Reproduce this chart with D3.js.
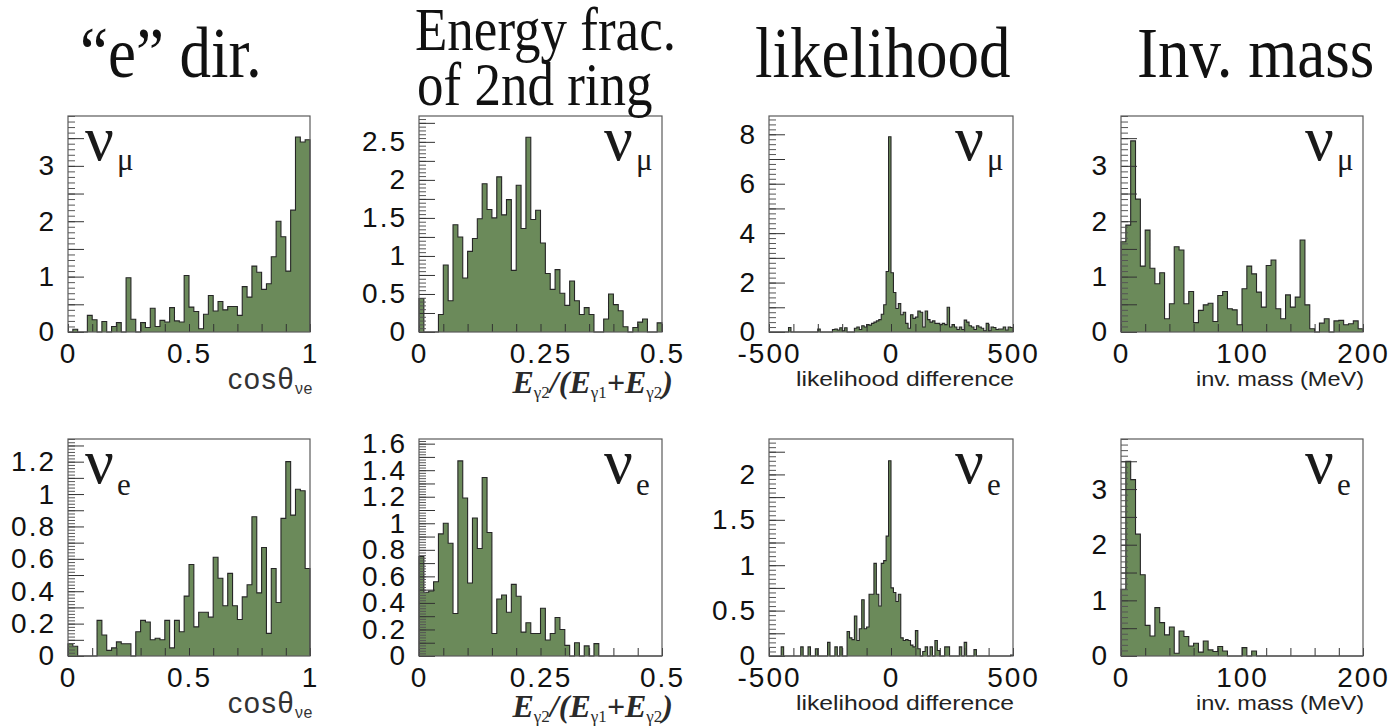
<!DOCTYPE html>
<html><head><meta charset="utf-8">
<script src="https://cdn.jsdelivr.net/npm/d3@7"></script>
<style>body{margin:0;background:#fff}</style>
</head><body><svg id="c" width="1394" height="726" xmlns="http://www.w3.org/2000/svg"></svg>
<script>
// ---------- data ----------
const titles = ["\u201ce\u201d dir.", "Energy frac.", "of 2nd ring", "likelihood", "Inv. mass"];

const cosRange = [0, 1];
const efracRange = [0, 0.5];
const likeRange = [-500, 500];
const massRange = [0, 200];

const cosTicks = [0, 0.5, 1];
const efracTicks = [0, 0.25, 0.5];
const likeTicks = [-500, 0, 500];
const massTicks = [0, 100, 200];

const yTicksCosMu = [0, 1, 2, 3];
const yTicksEfracMu = [0, 0.5, 1, 1.5, 2, 2.5];
const yTicksLikeMu = [0, 2, 4, 6, 8];
const yTicksMassMu = [0, 1, 2, 3];
const yTicksCosE = [0, 0.2, 0.4, 0.6, 0.8, 1, 1.2];
const yTicksEfracE = [0, 0.2, 0.4, 0.6, 0.8, 1, 1.2, 1.4, 1.6];
const yTicksLikeE = [0, 0.5, 1, 1.5, 2];
const yTicksMassE = [0, 1, 2, 3];

const yMaxTop = [3.9, 2.84, 8.74, 3.9];
const yMaxBottom = [1.34, 1.635, 2.39, 3.9];

const cosNuMu = [0,0.05,0,0,0.3,0.22,0,0.19,0,0.1, 0.17,0,0.98,0.23,0,0.17,0.08,0.43,0.1,0.21,
  0.18,0.44,0.2,0.18,1.02,0.45,0.37,0.06,0.32,0.66, 0.38,0.55,0.4,0.46,0.46,0.3,0.82,0.63,1.19,1.08,
  0.77,0.87,1.36,2.0,1.72,1.1,2.2,3.52,3.43,3.47];
const cosNuE = [0.076,0.06,0,0,0,0,0.22,0.13,0.035,0.05, 0.087,0.076,0.076,0,0.15,0.22,0.21,0.1,0.11,0.1,
  0.22,0.05,0.22,0.15,0.37,0.565,0.18,0.27,0.27,0.24, 0.61,0.48,0.31,0.51,0.31,0.225,0.365,0.44,0.86,0.39,
  0.67,0.14,0.54,0.33,0.85,1.2,0.87,1.03,1.02,0.54];
const efracNuMu = [0.44,0,0,0,0.23,0.88,0.41,1.41,1.25,0.71, 1.06,1.23,1.49,1.95,1.61,1.5,2.04,1.54,1.74,0.81,
  1.93,1.36,2.56,1.48,1.6,1.17,0.77,0.56,0.82,0.51, 0.35,0.67,0.41,0.23,0.32,0.23,0,0,0.17,0.5,
  0.36,0.28,0.07,0,0.06,0.13,0.17,0,0,0.12];
const efracNuE = [0.75,0.48,0.49,0.56,0.92,1.0,0.85,0.32,1.47,1.19, 0.55,1.04,0.81,1.345,0.93,0.17,0.43,0.46,0.33,0.54,
  0.45,0.18,0.25,0.17,0.17,0.36,0.12,0.17,0.29,0.2, 0.08,0,0.1,0,0.076,0,0.093,0,0,0,
  0,0,0,0,0,0,0,0,0,0];
const likeNuMu = [0,0,0,0,0,0,0,0,0.18,0, 0,0,0,0,0,0,0,0,0,0,
  0.12,0,0,0,0,0,0.1,0.12,0.08,0.17, 0.05,0.17,0,0,0,0.15,0.2,0.1,0.25,0.2,
  0.3,0.28,0.35,0.4,0.45,0.5,0.72,1.1,2.45,7.9, 2.4,1.6,0.95,1.15,0.7,0.8,0.35,0.15,0.7,0.55,
  0.6,0.85,0.8,0.2,0.85,0.5,0.4,0.45,0.35,0.35, 0.3,0.35,0.3,1.0,0.2,0.3,0.2,0.1,0.2,0.1,
  0.48,0.4,0.25,0.2,0.1,0.25,0.2,0.15,0.05,0.35, 0.05,0.2,0.18,0.1,0.12,0.12,0.2,0.08,0.2,0.18];
const likeNuE = [0,0,0,0,0,0.1,0,0,0,0, 0,0,0,0.1,0,0,0.1,0,0,0.08,
  0,0,0,0,0.15,0,0,0.1,0,0.1, 0,0,0.27,0.2,0.18,0.44,0.17,0.3,0.62,0.3,
  0.32,0.68,0.68,1.02,0.68,0.55,1.02,1.05,1.32,2.15, 0.75,0.7,0.6,0.68,0.2,0.17,0.18,0.17,0.12,0.1,
  0.28,0.08,0,0.05,0.1,0,0.1,0,0.17,0.06, 0,0,0.1,0.1,0,0,0,0,0.1,0,
  0.15,0,0,0,0.07,0,0,0,0,0, 0,0,0,0,0,0,0,0,0,0.01];
const massNuMu = [1.63,1.93,3.45,2.4,1.19,1.84,1.15,0.87,1.07,0.24, 0.51,1.54,1.48,0.51,0.73,0.17,0.39,0.49,0.52,0.19,
  0.66,0.73,0.42,0.4,0.13,0.78,1.19,1.05,0.72,0.45, 1.2,1.3,0.42,0.24,0.67,0.45,0.63,1.66,0.49,0.06,
  0,0.16,0.24,0,0.2,0.21,0.13,0.15,0.2,0.06];
const massNuE = [1.2,3.5,3.17,2.19,1.46,0.55,0.36,0.87,0.6,0.38, 0.52,0.05,0.45,0.35,0.18,0.23,0.07,0.27,0.11,0.08,
  0.17,0.09,0,0,0,0.15,0,0.09,0,0, 0,0,0,0,0,0,0,0,0,0,
  0,0,0,0,0,0,0,0,0,0];

// ---------- layout ----------
const svg = d3.select("#c");
const cols = [{l:68,r:310},{l:419,r:662},{l:769,r:1013},{l:1121,r:1363}];
const rows = [{t:116,b:332},{t:439,b:656}];
const FILL = "#6b8a5a", LINE = "#262626", FRAME = "#5a5a5a";
const SANS = "'Liberation Sans', Arial, Helvetica, sans-serif";
const SERIF = "'Liberation Serif', 'Times New Roman', serif";

const defs = [
  {c:0,r:0,data:cosNuMu,dom:cosRange,xl:cosTicks,yl:yTicksCosMu,ym:yMaxTop[0],sub:"\u03bc",xt:"cos"},
  {c:1,r:0,data:efracNuMu,dom:efracRange,xl:efracTicks,yl:yTicksEfracMu,ym:yMaxTop[1],sub:"\u03bc",xt:"efrac"},
  {c:2,r:0,data:likeNuMu,dom:likeRange,xl:likeTicks,yl:yTicksLikeMu,ym:yMaxTop[2],sub:"\u03bc",xt:"like"},
  {c:3,r:0,data:massNuMu,dom:massRange,xl:massTicks,yl:yTicksMassMu,ym:yMaxTop[3],sub:"\u03bc",xt:"mass"},
  {c:0,r:1,data:cosNuE,dom:cosRange,xl:cosTicks,yl:yTicksCosE,ym:yMaxBottom[0],sub:"e",xt:"cos"},
  {c:1,r:1,data:efracNuE,dom:efracRange,xl:efracTicks,yl:yTicksEfracE,ym:yMaxBottom[1],sub:"e",xt:"efrac"},
  {c:2,r:1,data:likeNuE,dom:likeRange,xl:likeTicks,yl:yTicksLikeE,ym:yMaxBottom[2],sub:"e",xt:"like"},
  {c:3,r:1,data:massNuE,dom:massRange,xl:massTicks,yl:yTicksMassE,ym:yMaxBottom[3],sub:"e",xt:"mass"}
];

const rng = (a, b, s) => { const n = Math.floor((b - a) / s + 1e-6); return d3.range(n + 1).map(i => +(a + i * s).toFixed(6)); };
const fmt = v => String(+v.toFixed(3));

defs.forEach(p => {
  const L = cols[p.c].l, R = cols[p.c].r, T = rows[p.r].t, B = rows[p.r].b;
  const x = d3.scaleLinear().domain(p.dom).range([L, R]);
  const y = d3.scaleLinear().domain([0, p.ym]).range([B, T]);
  const g = svg.append("g");
  const n = p.data.length, bw = (p.dom[1] - p.dom[0]) / n;

  // histogram
  const pts = [[p.dom[0], 0]];
  p.data.forEach((v, i) => { const lo = p.dom[0] + i * bw; pts.push([lo, v], [lo + bw, v]); });
  pts.push([p.dom[1], 0]);
  const line = d3.line().x(d => x(d[0])).y(d => y(d[1]));
  g.append("path").attr("d", line(pts) + "Z").attr("fill", FILL).attr("stroke", "none");
  g.append("path").attr("d", line(pts)).attr("fill", "none").attr("stroke", LINE).attr("stroke-width", 1.1);

  // x ticks (inside, going up)
  const xs = (p.xl[1] - p.xl[0]) / 5;
  const xa = g.append("g").attr("transform", `translate(0,${B})`)
    .call(d3.axisBottom(x).tickValues(rng(p.dom[0], p.dom[1], xs)).tickSize(-8).tickFormat(""));
  xa.select(".domain").remove();
  xa.selectAll("line").attr("stroke", "#333");
  const xl = g.append("g").attr("transform", `translate(0,${B})`)
    .call(d3.axisBottom(x).tickValues(p.xl).tickSize(0).tickPadding(11).tickFormat(fmt));
  xl.select(".domain").remove();
  xl.selectAll("text").attr("font-family", SANS).attr("font-size", 28).attr("letter-spacing", "2px").attr("fill", "#111");

  // y ticks
  const ys = p.yl[1] - p.yl[0];
  const ya1 = g.append("g").attr("transform", `translate(${L},0)`)
    .call(d3.axisLeft(y).tickValues(rng(0, p.ym, ys / 10)).tickSize(-7).tickFormat(""));
  ya1.select(".domain").remove();
  ya1.selectAll("line").attr("stroke", "#555");
  const ya2 = g.append("g").attr("transform", `translate(${L},0)`)
    .call(d3.axisLeft(y).tickValues(rng(0, p.ym, ys / 2)).tickSize(-16).tickFormat(""));
  ya2.select(".domain").remove();
  ya2.selectAll("line").attr("stroke", "#333");
  const yl = g.append("g").attr("transform", `translate(${L},0)`)
    .call(d3.axisLeft(y).tickValues(p.yl).tickSize(0).tickPadding(12).tickFormat(fmt));
  yl.select(".domain").remove();
  yl.selectAll("text").attr("font-family", SANS).attr("font-size", 28).attr("letter-spacing", "2px").attr("fill", "#111");

  // frame
  g.append("rect").attr("x", L).attr("y", T).attr("width", R - L).attr("height", B - T)
    .attr("fill", "none").attr("stroke", FRAME).attr("stroke-width", 1.2);

  // flavour label
  const nx = p.c === 0 ? L + 17 : R - 58;
  const nt = g.append("text").attr("x", nx).attr("y", T + 44).attr("font-family", SERIF).attr("fill", "#1a1a1a");
  nt.append("tspan").attr("font-size", 64).text("\u03bd");
  nt.append("tspan").attr("font-size", 31).attr("dy", p.sub === "e" ? 12 : 10).attr("dx", 3).text(p.sub);

  // axis title
  const off = B;
  if (p.xt === "cos") {
    const t = g.append("text").attr("x", R + 3).attr("y", off + 57).attr("text-anchor", "end")
      .attr("font-family", SANS).attr("fill", "#333").attr("font-size", 29).attr("letter-spacing", "1.5px");
    t.append("tspan").text("cos\u03b8");
    t.append("tspan").attr("font-size", 16).attr("dy", 5).attr("letter-spacing", "0.5px").text("\u03bde");
  } else if (p.xt === "efrac") {
    const t = g.append("text").attr("x", R + 11).attr("y", off + 61).attr("text-anchor", "end")
      .attr("font-family", SERIF).attr("font-weight", "bold").attr("fill", "#2a2a2a").attr("font-size", 32);
    const parts = [["E",1,0],["\u03b32",0,5],["/(",1,-5],["E",1,0],["\u03b31",0,5],["+",1,-5],["E",1,0],["\u03b32",0,5],[")",1,-5]];
    parts.forEach(([s, big, dy]) => {
      const ts = t.append("tspan").attr("dy", dy).text(s);
      if (big) ts.attr("font-style", "italic"); else ts.attr("font-size", 17).attr("font-weight", "normal");
    });
  } else {
    const label = p.xt === "like" ? "likelihood difference" : "inv. mass (MeV)";
    const len = p.xt === "like" ? 218 : 168;
    g.append("text").attr("x", R + 1 - len).attr("y", off + 54)
      .attr("font-family", SANS).attr("font-size", 19.5).attr("fill", "#222")
      .attr("textLength", len).attr("lengthAdjust", "spacingAndGlyphs").text(label);
  }
});

// ---------- column titles ----------
const titlePos = [[80, 77, 63], [415, 50, 53], [417, 105, 53], [755, 77, 63], [1137, 77, 63]];
titles.forEach((s, i) => {
  const [tx, ty, fs] = titlePos[i];
  svg.append("g").attr("transform", `translate(${tx},${ty}) scale(1,1.15)`)
    .append("text").attr("x", 0).attr("y", 0).attr("font-family", SERIF).attr("font-size", fs)
    .attr("fill", "#111").text(s);
});
</script>
</body></html>
